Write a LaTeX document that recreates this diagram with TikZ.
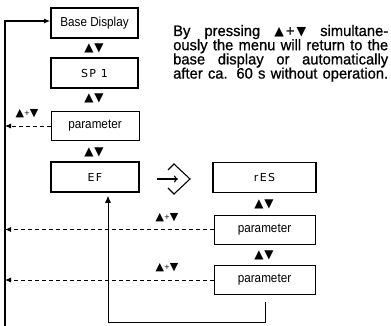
\documentclass[tikz,border=0pt]{standalone}
\usepackage{fontspec}
\setmainfont{Liberation Sans}
\newfontfamily\boxfont[FakeStretch=0.9]{Liberation Sans}
\newfontfamily\parafont[FakeStretch=0.97,FakeBold=0.8]{Liberation Sans}
\newfontfamily\symfont{DejaVu Sans}
\newfontfamily\segfont[LetterSpace=12]{DejaVu Sans}
\usetikzlibrary{arrows.meta}
\newcommand\updn{{\symfont\fontsize{12}{12}\selectfont ▲\kern0.8pt▼}}
\newcommand\upplusdn{{\symfont\fontsize{11}{11}\selectfont ▲\raisebox{1.5pt}{\fontsize{7}{7}\selectfont +}▼}}
\newcommand\txtup{{\symfont\fontsize{12.5}{12.5}\selectfont ▲}}
\newcommand\txtdn{{\symfont\fontsize{12.5}{12.5}\selectfont ▼}}
\begin{document}
\begin{tikzpicture}[x=1pt,y=-1pt,
  disp/.style={draw, line width=1.6pt, minimum width=87pt, minimum height=30pt, inner sep=0pt,
    font=\segfont\fontsize{11}{11}\selectfont},
  basebox/.style={disp, font=\boxfont\fontsize{13}{13}\selectfont},
  parambox/.style={draw, line width=0.8pt, minimum height=29pt, inner sep=0pt,
    font=\boxfont\fontsize{13}{13}\selectfont},
  keys/.style={inner sep=0pt},
  conn/.style={line width=0.8pt},
  dashconn/.style={line width=0.8pt, dash pattern=on 4pt off 3pt, -{Latex[length=6pt,width=5pt]}},
  paraline/.style={anchor=base west, inner sep=0pt, font=\parafont\fontsize{15.2}{15.2}\selectfont}
]
\useasboundingbox (0,0) rectangle (391,326);

% boxes
\node[basebox] (base) at (94.5,23) {Base Display};
\node[disp] (sp1) at (94.5,73) {SP 1};
\node[parambox, minimum width=88pt] (par1) at (95,126) {parameter};
\node[disp, minimum width=88pt] (ef) at (95,177) {EF};
\node[disp, minimum width=103pt] (res) at (264.5,177.5) {rES};
\node[parambox, minimum width=101pt] (par2) at (264.5,229.5) {parameter};
\node[parambox, minimum width=101pt] (par3) at (264.5,280) {parameter};

% key symbols
\node[keys] (k1) at (94,48) {\updn};
\node[keys] (k2) at (94,98) {\updn};
\node[keys] (k3) at (94,152) {\updn};
\node[keys] (k4) at (264,204) {\updn};
\node[keys] (k5) at (264,255) {\updn};
\node[keys] (s1) at (27,114) {\upplusdn};
\node[keys] (s2) at (167,218) {\upplusdn};
\node[keys] (s3) at (167,268) {\upplusdn};

% left return line
\coordinate (bl) at (5,326);
\coordinate (tl) at (5,21);
\draw[line width=1.2pt, -{Latex[length=6pt,width=5pt]}] (bl) -- (tl) -- (tl -| base.west);

% dashed returns
\draw[dashconn] (par1.west) -- (par1.west -| bl);
\draw[dashconn] (par2.west) -- (par2.west -| bl);
\draw[dashconn] (par3.west) -- (par3.west -| bl);

% loop back to EF
\coordinate (r1) at (265,302);
\coordinate (r3) at (108,322);
\draw[conn, shorten >=3pt, -{Latex[length=7pt,width=6pt]}] (r1) |- (r3) -- (r3 |- ef.south);

% enter symbol
\coordinate (ent) at (174,179);
\draw[line width=1.1pt, -{To[length=4pt,width=7pt]}] ([shift={(-17,0)}]ent) -- ([shift={(4,0)}]ent);
\draw[line width=1.1pt, line join=miter] ([shift={(-6,-9)}]ent) -- ([shift={(0,-15)}]ent)
  -- ([shift={(16,0)}]ent) -- ([shift={(0,15)}]ent) -- ([shift={(-6,9)}]ent);

% paragraph
\node[paraline] (p1) at (173,36) {\hbox to 215pt{By pressing \txtup\kern2pt+\kern2pt\txtdn{} simultane-}};
\node[paraline] (p2) at (173,50.2) {\hbox to 215pt{ously the menu will return to the}};
\node[paraline] (p3) at (173,64.4) {\hbox to 215pt{base display or automatically}};
\node[paraline] (p4) at (173,78.6) {\hbox to 215pt{after ca. 60 s without operation.}};
\end{tikzpicture}
\end{document}
